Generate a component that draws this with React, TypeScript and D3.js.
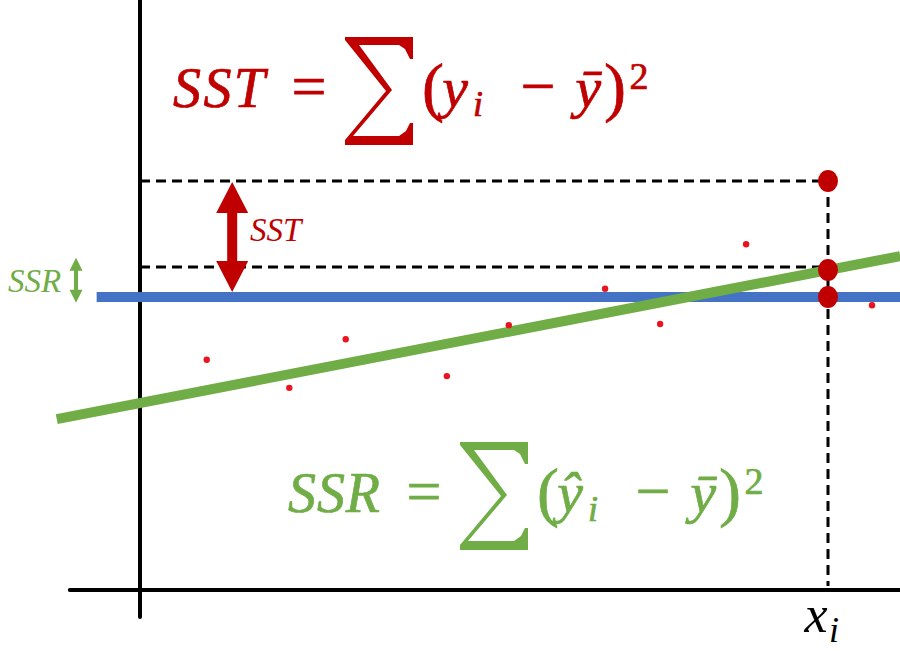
import React from "react";
import * as d3 from "d3";

// ---- data (chart units) ----
const pointX = [0.97, 2.17, 2.99, 4.46, 5.36, 6.76, 7.56, 8.81, 10.64];
const pointY = [3.93, 3.45, 4.28, 3.65, 4.52, 5.14, 4.54, 5.9, 4.86];
const xI = 10;
const yI = 6.98;
const yMean = 5;
const fitIntercept = 3.19;
const fitSlope = 0.227;
const fitRange = [-1.21, 11.05];
const meanRange = [-0.63, 11.05];
const xAxisRange = [-1.02, 11.05];
const yAxisRange = [-0.46, 10.1];
const sstArrowX = 1.34;
const ssrArrowX = -0.93;
const ssrArrowRange = [4.9, 5.67];

const RED = "#c00000";
const DOT = "#e8141f";
const BLUE = "#4472c4";
const GREEN = "#70ad47";
const SERIF = "'Liberation Serif', 'DejaVu Serif', serif";

const W = 900;
const H = 653;

const x = d3.scaleLinear().domain([0, 10]).range([140, 828]);
const y = d3.scaleLinear().domain([0, 10]).range([590, 4]);

function sigmaPath(ox: number, oy: number) {
  const pts = [
    [0, 0], [68, 0], [68, 22], [65, 22], [60, 12], [54, 8], [14, 8], [47, 53],
    [8, 99], [54, 99], [61, 94], [65, 86], [68, 86], [68, 108], [0, 108], [0, 103],
    [41, 54], [0, 3],
  ];
  return "M" + pts.map((p) => `${ox + p[0]},${oy + p[1]}`).join("L") + "Z";
}

function arrowPath(cx: number, y1: number, y2: number, shaft: number, headW: number, headL: number) {
  const s = shaft / 2, h = headW / 2;
  const pts = [
    [cx, y1], [cx + h, y1 + headL], [cx + s, y1 + headL], [cx + s, y2 - headL], [cx + h, y2 - headL],
    [cx, y2], [cx - h, y2 - headL], [cx - s, y2 - headL], [cx - s, y1 + headL], [cx - h, y1 + headL],
  ];
  return "M" + pts.map((p) => `${p[0]},${p[1]}`).join("L") + "Z";
}

function Formula({ sx, base, color, lhs, first }: { sx: number; base: number; color: string; lhs: string; first: string }) {
  const it = { fontFamily: SERIF, fontStyle: "italic", fill: color, stroke: color, strokeWidth: 0.7 } as const;
  const up = { fontFamily: SERIF, fill: color, stroke: color, strokeWidth: 0.7 } as const;
  return (
    <g>
      <text x={sx - 172} y={base} fontSize={56} textLength={92} lengthAdjust="spacing" {...it}>{lhs}</text>
      <text x={sx - 36} y={base} fontSize={62} textAnchor="middle" {...up}>=</text>
      <path d={sigmaPath(sx, base - 70)} fill={color} />
      <text x={sx + 88} y={base + 2} fontSize={66} textAnchor="middle" {...up}>(</text>
      <text x={sx + 110} y={base} fontSize={58} textAnchor="middle" {...it}>{first}</text>
      <text x={sx + 133} y={base + 9} fontSize={36} textAnchor="middle" {...it}>i</text>
      <text x={sx + 193} y={base} fontSize={62} textAnchor="middle" {...up}>−</text>
      <text x={sx + 243} y={base} fontSize={58} textAnchor="middle" {...it}>ȳ</text>
      <text x={sx + 270} y={base + 2} fontSize={66} textAnchor="middle" {...up}>)</text>
      <text x={sx + 294} y={base - 18} fontSize={38} textAnchor="middle" {...up}>2</text>
    </g>
  );
}

export default function App() {
  if (typeof document !== "undefined") document.body.style.margin = "0";
  const fitLine = d3.line<number>().x((d) => x(d)).y((d) => y(fitIntercept + fitSlope * d));
  const yHatI = fitIntercept + fitSlope * xI;
  const dash = "10,6";
  return (
    <svg width={W} height={H} style={{ display: "block", background: "#fff" }}>
      {/* axes */}
      <line x1={x(0)} x2={x(0)} y1={y(yAxisRange[1])} y2={y(yAxisRange[0])} stroke="#000" strokeWidth={4} strokeLinecap="round" />
      <line x1={x(xAxisRange[0])} x2={x(xAxisRange[1])} y1={y(0)} y2={y(0)} stroke="#000" strokeWidth={4} strokeLinecap="round" />

      {/* dashed guides */}
      <line x1={x(0)} x2={x(xI)} y1={y(yI)} y2={y(yI)} stroke="#000" strokeWidth={3} strokeDasharray={dash} />
      <line x1={x(0)} x2={x(xI)} y1={y(yHatI) - 3} y2={y(yHatI) - 3} stroke="#000" strokeWidth={3} strokeDasharray={dash} />
      <line x1={x(xI)} x2={x(xI)} y1={y(yI)} y2={y(0) - 4} stroke="#000" strokeWidth={3} strokeDasharray={dash} />

      {/* mean line */}
      <line x1={x(meanRange[0])} x2={x(meanRange[1])} y1={y(yMean)} y2={y(yMean)} stroke={BLUE} strokeWidth={10} />
      {/* fitted line */}
      <path d={fitLine(fitRange) || ""} stroke={GREEN} strokeWidth={10} fill="none" />

      {/* data points */}
      {pointX.map((px, i) => (
        <circle key={i} cx={x(px)} cy={y(pointY[i])} r={3.2} fill={DOT} />
      ))}
      {/* highlighted points */}
      {[yI, yHatI, yMean].map((v, i) => (
        <ellipse key={i} cx={x(xI)} cy={y(v)} rx={10} ry={11} fill={RED} />
      ))}

      {/* arrows */}
      <path d={arrowPath(x(sstArrowX), y(yI) + 1, y(yMean) - 5, 10, 32, 31)} fill={RED} />
      <text x={250} y={241} fontSize={33} fontFamily={SERIF} fontStyle="italic" fill={RED}>SST</text>
      <path d={arrowPath(x(ssrArrowX), y(ssrArrowRange[1]), y(ssrArrowRange[0]), 4, 13, 13)} fill={GREEN} />
      <text x={8} y={292} fontSize={33} fontFamily={SERIF} fontStyle="italic" fill={GREEN}>SSR</text>

      {/* formulas */}
      <Formula sx={345} base={107} color={RED} lhs="SST" first="y" />
      <Formula sx={460} base={512} color={GREEN} lhs="SSR" first="ŷ" />

      {/* x_i label */}
      <text x={816} y={632} fontSize={52} fontFamily={SERIF} fontStyle="italic" textAnchor="middle">x</text>
      <text x={834} y={642} fontSize={36} fontFamily={SERIF} fontStyle="italic" textAnchor="middle">i</text>
    </svg>
  );
}
